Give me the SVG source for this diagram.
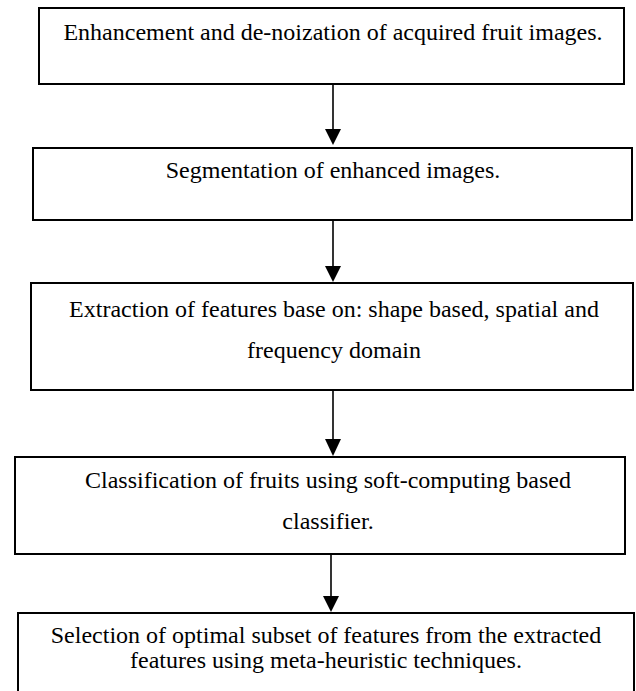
<svg xmlns="http://www.w3.org/2000/svg" width="636" height="691" viewBox="0 0 636 691">
<style>
.box{fill:#fff;stroke:#000;stroke-width:2}
.t{font-family:"Liberation Serif","Times New Roman",serif;font-size:24px;fill:#000;text-anchor:middle}
.c{stroke:#000;stroke-width:1.6;fill:none}
</style>
<defs>
<marker id="ah" viewBox="0 0 10 10" refX="10" refY="5" markerWidth="10" markerHeight="10" markerUnits="userSpaceOnUse" orient="auto">
<path d="M0,0 L10,5 L0,10 Z" fill="#000"/>
</marker>
</defs>
<rect width="636" height="691" fill="#fff"/>
<g id="connectors">
<path class="c" d="M333,85 V129"/><path d="M325,129 L341,129 L333,145 Z"/>
<path class="c" d="M333,221 V266"/><path d="M325,266 L341,266 L333,282 Z"/>
<path class="c" d="M333,391 V439"/><path d="M325,439 L341,439 L333,456 Z"/>
<path class="c" d="M331,555 V596"/><path d="M323,596 L339,596 L331,612 Z"/>
</g>
<g id="n1"><rect class="box" x="39" y="8" width="585" height="76"/>
<text class="t" x="333" y="40">Enhancement and de-noization of acquired fruit images.</text></g>
<g id="n2"><rect class="box" x="33" y="148" width="599" height="72"/>
<text class="t" x="333" y="178">Segmentation of enhanced images.</text></g>
<g id="n3"><rect class="box" x="31" y="283" width="602" height="107"/>
<text class="t" x="334" y="317">Extraction of features base on: shape based, spatial and</text>
<text class="t" x="334" y="358">frequency domain</text></g>
<g id="n4"><rect class="box" x="15" y="457" width="610" height="97"/>
<text class="t" x="328" y="488">Classification of fruits using soft-computing based</text>
<text class="t" x="328" y="529">classifier.</text></g>
<g id="n5"><rect class="box" x="18" y="613" width="616" height="90"/>
<text class="t" x="326" y="643">Selection of optimal subset of features from the extracted</text>
<text class="t" x="326" y="668">features using meta-heuristic techniques.</text></g>
</svg>
